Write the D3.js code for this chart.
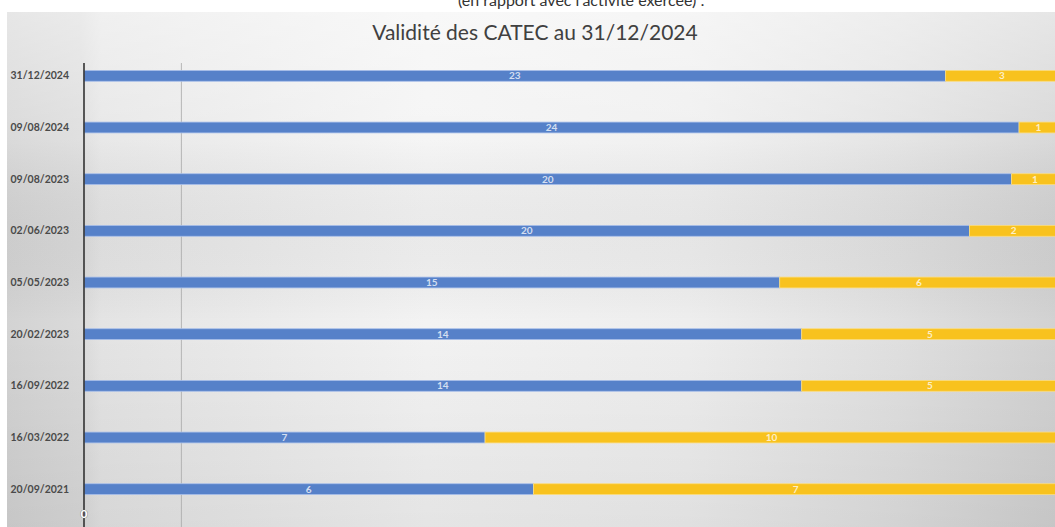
<!DOCTYPE html>
<html>
<head>
<meta charset="utf-8" />
<title>Validité des CATEC</title>
<script src="https://d3js.org/d3.v7.min.js"></script>
<style>
  body { margin: 0; background: #fff; }
  svg { display: block; font-family: Lato, "Open Sans", sans-serif; }
</style>
</head>
<body>
<script>
// data (top to bottom)
const dates = ["31/12/2024", "09/08/2024", "09/08/2023", "02/06/2023", "05/05/2023",
               "20/02/2023", "16/09/2022", "16/03/2022", "20/09/2021"];
const valides = [23, 24, 20, 20, 15, 14, 14, 7, 6];
const nonValides = [3, 1, 1, 2, 6, 5, 5, 10, 7];
const gridTicks = [0.1];

const width = 1055, height = 527;

const svg = d3.select("body").append("svg")
  .attr("width", width)
  .attr("height", height);

const defs = svg.append("defs");
const hGrad = defs.append("linearGradient").attr("id", "bgH")
  .attr("x1", "0%").attr("x2", "100%").attr("y1", "0%").attr("y2", "0%");
[["0%", "#d3d3d3"], ["7%", "#dadada"], ["9%", "#e4e4e4"], ["40%", "#f3f3f3"],
 ["65%", "#eeeeee"], ["85%", "#e0e0e0"], ["100%", "#d2d2d2"]]
  .forEach(s => hGrad.append("stop").attr("offset", s[0]).attr("stop-color", s[1]));
const vGrad = defs.append("linearGradient").attr("id", "bgV")
  .attr("x1", "0%").attr("x2", "0%").attr("y1", "0%").attr("y2", "100%");
[["0%", "#ffffff", 0.45], ["25%", "#ffffff", 0.15], ["60%", "#000000", 0.0], ["100%", "#000000", 0.06]]
  .forEach(s => vGrad.append("stop").attr("offset", s[0]).attr("stop-color", s[1]).attr("stop-opacity", s[2]));

// cropped subtitle of the slide, above the chart picture
svg.append("text")
  .attr("x", 458).attr("y", 6)
  .attr("font-size", 16)
  .attr("fill", "#333")
  .text("(en rapport avec l'activité exercée) :");

// chart picture background
svg.append("rect").attr("x", 7).attr("y", 12)
  .attr("width", width - 7).attr("height", height - 12)
  .attr("fill", "url(#bgH)");
svg.append("rect").attr("x", 7).attr("y", 12)
  .attr("width", width - 7).attr("height", height - 12)
  .attr("fill", "url(#bgV)");

svg.append("text")
  .attr("x", 535).attr("y", 40)
  .attr("text-anchor", "middle")
  .attr("font-size", 21)
  .attr("fill", "#404040")
  .text("Validité des CATEC au 31/12/2024");

const x = d3.scaleLinear().domain([0, 1]).range([84, 1058]);
const y = d3.scaleBand().domain(dates).range([50, 515]).paddingInner(0.79).paddingOuter(0.395);

// grid
svg.append("g")
  .selectAll("line")
  .data(gridTicks)
  .join("line")
  .attr("x1", d => x(d)).attr("x2", d => x(d))
  .attr("y1", 63).attr("y2", height)
  .attr("stroke", "#a8a8a8").attr("stroke-width", 0.8);

const rows = dates.map((d, i) => {
  const total = valides[i] + nonValides[i];
  return { date: d, v: valides[i], n: nonValides[i], pv: valides[i] / total };
});

const segs = [];
rows.forEach(r => {
  segs.push({ date: r.date, x0: 0, x1: r.pv, val: r.v, color: "#5681c9" });
  segs.push({ date: r.date, x0: r.pv, x1: 1, val: r.n, color: "#f8c21e" });
});

svg.append("g")
  .selectAll("rect")
  .data(segs)
  .join("rect")
  .attr("x", d => x(d.x0))
  .attr("y", d => y(d.date))
  .attr("width", d => x(d.x1) - x(d.x0))
  .attr("height", y.bandwidth())
  .attr("fill", d => d.color)
  .attr("stroke", d => d.color === "#5681c9" ? "#a9c0ea" : "#fbdc80")
  .attr("stroke-width", 0.8);

svg.append("g")
  .selectAll("text")
  .data(segs)
  .join("text")
  .attr("x", d => (x(d.x0) + x(d.x1)) / 2)
  .attr("y", d => y(d.date) + y.bandwidth() / 2)
  .attr("dy", "0.36em")
  .attr("text-anchor", "middle")
  .attr("font-size", 10)
  .attr("font-weight", "bold")
  .attr("fill", "#ffffff")
  .attr("fill-opacity", 0.75)
  .text(d => d.val);

// category axis
const yAxis = svg.append("g")
  .attr("transform", "translate(84,0)")
  .call(d3.axisLeft(y).tickSize(0).tickPadding(15));
yAxis.select(".domain").remove();
yAxis.selectAll("text")
  .attr("font-family", "Lato, sans-serif")
  .attr("font-size", 10.5)
  .attr("font-weight", "bold")
  .attr("fill", "#4a4a4a");

svg.append("line")
  .attr("x1", 84).attr("x2", 84)
  .attr("y1", 63).attr("y2", height)
  .attr("stroke", "#333").attr("stroke-width", 1.6);

// value axis, only the first label is left in the picture
svg.append("text")
  .attr("x", 84).attr("y", 518)
  .attr("text-anchor", "middle")
  .attr("font-size", 12)
  .attr("font-weight", "bold")
  .attr("fill", "#ffffff")
  .attr("stroke", "#666").attr("stroke-width", 0.7)
  .attr("paint-order", "stroke")
  .text(x.domain()[0]);
</script>
</body>
</html>
